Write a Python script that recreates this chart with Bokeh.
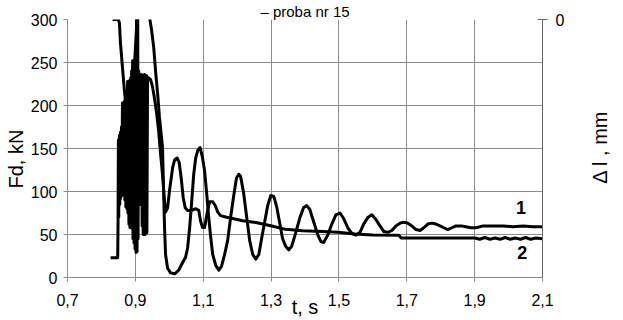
from math import pi
from bokeh.plotting import figure
from bokeh.layouts import row
from bokeh.core.properties import value
from bokeh.models import Range1d, LinearAxis, FixedTicker, CustomJSTickFormatter, Label
from bokeh.embed import file_html
from bokeh.resources import INLINE

# ---- data ----
# curve 2 : Fd, kN (left axis)
t_fd = [0.827, 0.848, 0.849, 0.850, 0.851, 0.853, 0.854, 0.856, 0.857, 0.859, 0.860,
        0.862, 0.863, 0.865, 0.866, 0.868, 0.869, 0.871, 0.872, 0.874, 0.875, 0.877,
        0.878, 0.880, 0.881, 0.883, 0.884, 0.886, 0.887, 0.889, 0.890, 0.892, 0.893,
        0.895, 0.896, 0.898, 0.899, 0.901, 0.902, 0.904, 0.905, 0.907, 0.908, 0.910,
        0.911, 0.912, 0.914, 0.915, 0.917, 0.918, 0.920, 0.921, 0.923, 0.924, 0.926,
        0.927, 0.929, 0.930, 0.931, 0.933, 0.934, 0.936,
        0.945, 0.951, 0.957, 0.963, 0.969, 0.974, 0.980, 0.985, 0.989, 0.995, 1.001,
        1.010, 1.016, 1.023, 1.029, 1.035, 1.041, 1.047, 1.054, 1.066, 1.078, 1.087,
        1.092, 1.098, 1.104, 1.112, 1.119, 1.128, 1.135, 1.143, 1.151, 1.169, 1.187,
        1.216, 1.255, 1.296, 1.343, 1.393, 1.452, 1.497, 1.547, 1.600, 1.677, 1.683,
        1.777, 1.901, 1.915, 1.930, 1.945, 1.960, 1.975, 1.990, 2.005, 2.020, 2.035,
        2.050, 2.065, 2.080, 2.100]
fd = [23, 23, 66, 160, 70, 165, 85, 169, 92, 175, 95,
      203, 100, 200, 102, 205, 90, 203, 82, 215, 80, 228,
      75, 226, 62, 229, 58, 232, 60, 240, 57, 252, 45,
      250, 40, 253, 33, 252, 29, 315, 30, 320, 45, 240,
      87, 236, 85, 235, 88, 236, 60, 234, 50, 235, 52,
      236, 50, 234, 55, 235, 52, 233,
      230, 221, 207, 190, 169, 145, 120, 93, 76, 81, 102,
      128, 137, 139, 134, 116, 93, 81, 78, 78, 80, 78,
      66, 58, 58, 76, 88, 88, 84, 76, 72, 70, 68.5,
      66, 64, 60.5, 56, 54.5, 53.5, 52.5, 50.5, 49.5, 49, 46,
      46, 46, 44.5, 46.5, 44.5, 46, 44.5, 46.5, 44.5, 46, 44.5,
      46.5, 44.5, 46, 45]

# curve 1 : delta l, mm (right axis)
t_dl = [0.833, 0.850, 0.853, 0.856, 0.862, 0.867, 0.871, 0.877, 0.883, 0.889, 0.895,
        0.901, 0.907, 0.915, 0.927, 0.936, 0.942, 0.948, 0.954, 0.960, 0.966, 0.971,
        0.977, 0.980, 0.983, 0.986, 0.989, 0.995, 1.004, 1.016, 1.028, 1.039, 1.048,
        1.054, 1.060, 1.066, 1.072, 1.078, 1.084, 1.091, 1.098, 1.104, 1.110, 1.116,
        1.122, 1.128, 1.137, 1.146, 1.154, 1.163, 1.172, 1.181, 1.190, 1.198, 1.205,
        1.210, 1.219, 1.228, 1.237, 1.246, 1.255, 1.264, 1.272, 1.281, 1.290, 1.299,
        1.308, 1.317, 1.326, 1.334, 1.343, 1.352, 1.361, 1.373, 1.385, 1.396, 1.405,
        1.414, 1.426, 1.438, 1.447, 1.455, 1.467, 1.479, 1.491, 1.503, 1.514, 1.526,
        1.538, 1.550, 1.562, 1.573, 1.585, 1.597, 1.609, 1.621, 1.632, 1.644, 1.656,
        1.668, 1.680, 1.691, 1.703, 1.715, 1.727, 1.739, 1.750, 1.762, 1.774, 1.786,
        1.798, 1.809, 1.821, 1.833, 1.845, 1.860, 1.874, 1.889, 1.904, 1.925, 1.954,
        1.984, 2.013, 2.043, 2.072, 2.100]
dl = [0, 0, -2, -12.5, -26, -37, -45, -59, -67, -56, -34,
      -12.5, 6.5, 15, 17, 12, 1, -6, -15, -29, -41, -53,
      -64, -69, -91, -113, -127.5, -135, -137.5, -138, -136, -132, -129,
      -124, -113, -99, -84, -75, -71, -69.5, -75, -82, -94, -107,
      -118, -127.5, -133.5, -136, -134, -127.5, -120, -107, -95.5, -86, -84,
      -85, -94, -107, -120, -127.5, -130, -127.5, -119, -110, -101, -95.5,
      -96, -102, -111, -119, -123, -125, -123, -115.5, -107.5, -102, -101,
      -103, -110, -117, -120.5, -121, -117, -111, -106, -105, -108, -113,
      -116, -117, -115.5, -111, -107.5, -106, -108.5, -112, -115, -115.5, -114.5,
      -112, -110.5, -110, -110.5, -112, -114, -114.5, -113, -111, -110.5, -111,
      -112, -113, -114, -113, -112, -112, -112.5, -113, -113, -112, -112,
      -112, -112.5, -112, -112.5, -112.5]

x_ticks = [0.7, 0.9, 1.1, 1.3, 1.5, 1.7, 1.9, 2.1]
fd_ticks = [0, 50, 100, 150, 200, 250, 300]
dl_ticks = [0, -20, -40, -60, -80, -100, -120, -140]

title_text = "– proba nr 15"
x_label = "t, s"
fd_label = "Fd, kN"
dl_label = "Δ l , mm"
series_labels = ["1", "2"]

FONT = "Liberation Sans"
GRID = "#8c8c8c"
H = 320
LEFT_W, RIGHT_W = 27, 37

fig = figure(frame_width=475, frame_height=258,
             min_border_left=38, min_border_right=46,
             min_border_top=17, min_border_bottom=45,
             x_range=Range1d(0.7, 2.1), y_range=Range1d(0, 300),
             output_backend="svg", toolbar_location=None)
fig.outline_line_color = None
fig.background_fill_color = "white"
fig.border_fill_color = "white"

fig.title.text = title_text
fig.title.text_font = FONT
fig.title.text_font_size = "15px"
fig.title.text_font_style = "normal"
fig.title.text_color = "black"
fig.title.align = "center"
fig.title.standoff = 0
fig.title.offset = 11

fig.extra_y_ranges = {"dl": Range1d(-140, 0)}
ax2 = LinearAxis(y_range_name="dl", ticker=FixedTicker(ticks=dl_ticks))
fig.add_layout(ax2, "right")

fig.xaxis.ticker = FixedTicker(ticks=x_ticks)
fig.xaxis.formatter = CustomJSTickFormatter(code="return tick.toFixed(1).replace('.', ',');")
fig.yaxis.ticker = FixedTicker(ticks=fd_ticks)

for ax in fig.axis:
    ax.major_label_text_font = FONT
    ax.major_label_text_font_size = "16px"
    ax.major_label_text_color = "black"
    ax.axis_line_color = GRID
    ax.major_tick_line_color = GRID
    ax.minor_tick_line_color = None
    ax.axis_label_text_font = FONT
    ax.axis_label_text_font_size = "20px"
    ax.axis_label_text_font_style = "normal"
    ax.axis_label_text_color = "black"

xa = fig.xaxis[0]
xa.major_tick_in = 0
xa.major_tick_out = 4
xa.major_label_standoff = 12
xa.axis_label = x_label
xa.axis_label_standoff = -13

yl = fig.yaxis[0]
yl.major_tick_in = 0
yl.major_tick_out = 4
yl.major_label_standoff = 6

ax2.major_tick_in = 5
ax2.major_tick_out = 5
ax2.major_label_standoff = 8
ax2.axis_line_color = "#666666"
ax2.major_tick_line_color = "#666666"

fig.xgrid.grid_line_color = GRID
fig.ygrid.grid_line_color = GRID
fig.xgrid.grid_line_width = 1
fig.ygrid.grid_line_width = 1

fig.line(t_dl, dl, y_range_name="dl", line_color="black", line_width=3, line_join="round")
fig.line(t_fd, fd, line_color="black", line_width=3, line_join="round")

for tx, ty, txt in [(2.037, 81.5, series_labels[0]), (2.040, 29, series_labels[1])]:
    fig.add_layout(Label(x=tx, y=ty, text=txt, text_font=FONT, text_font_size="18px",
                         text_font_style="bold", text_color="black",
                         text_align="center", text_baseline="middle"))


# narrow side strips that carry the rotated axis titles (read bottom-to-top)
def side_strip(w, text, tx, ty):
    s = figure(width=w, height=H, x_range=Range1d(0, w), y_range=Range1d(0, H),
               min_border=0, output_backend="svg", toolbar_location=None)
    s.axis.visible = False
    s.grid.visible = False
    s.outline_line_color = None
    s.background_fill_color = "white"
    s.border_fill_color = "white"
    s.text(x=[tx], y=[ty], text=[text], angle=pi / 2, text_align="center",
           text_baseline="middle", text_font=value(FONT), text_font_size="20px",
           text_color="black")
    return s


left_strip = side_strip(LEFT_W, fd_label, 15.5, 145.5)
right_strip = side_strip(RIGHT_W, dl_label, 11.5, 160.5)

p = row(left_strip, fig, right_strip, spacing=0)

open("out.html", "w").write(file_html(p, INLINE))
